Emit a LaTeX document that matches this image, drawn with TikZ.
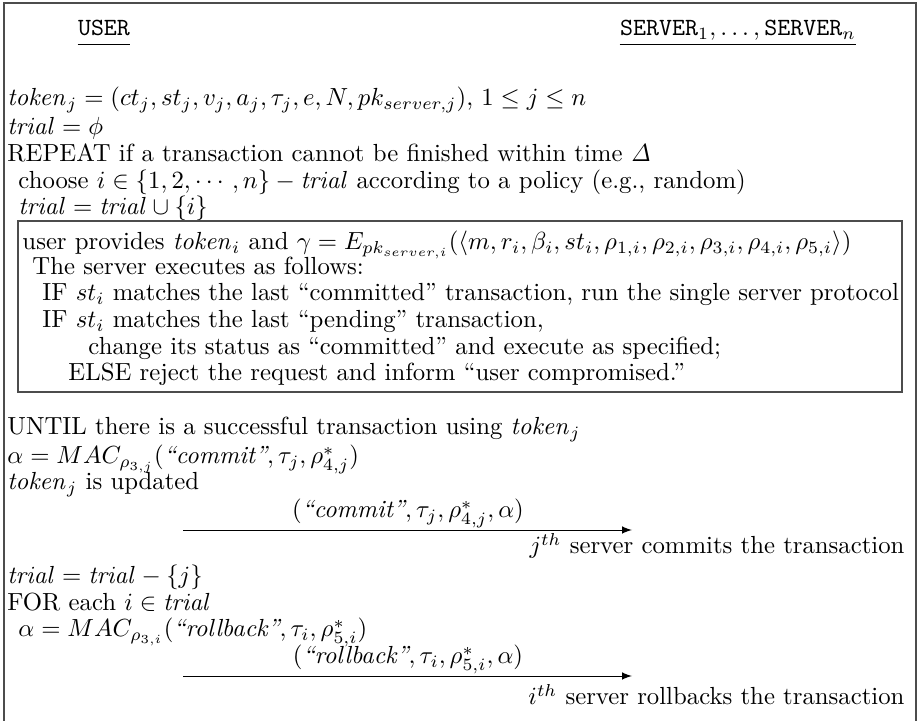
\documentclass[tikz,border=0pt]{standalone}
\usepackage{amsmath}
\usepackage{amssymb}
\usepackage{tikz}
\usetikzlibrary{arrows}
\usetikzlibrary{positioning}
\definecolor{mgray}{rgb}{0.3, 0.3, 0.3}

\begin{document}
\begin{tikzpicture}[x=0.404pt, y=-0.404pt,
    txt/.style={anchor=base west, inner sep=0pt},
    rtxt/.style={anchor=base east, inner sep=0pt},
    msg/.style={anchor=base, inner sep=0pt},
    hdr/.style={anchor=base, inner sep=0pt, font=\ttfamily}]
  \useasboundingbox (0, 0) rectangle (919, 721);

  % outer frame, open at the bottom
  \draw [mgray, line width=0.7pt] (4, 721) -- (4, 3) -- (916, 3) -- (916, 721);

  % parties
  \node [hdr] (user) at (104, 36) {USER};
  \node [hdr] (servers) at (738, 36) {$\texttt{SERVER}_1, \ldots, \texttt{SERVER}_n$};
  \draw ([yshift=-3.3pt] user.base west) -- ([yshift=-3.3pt] user.base east);
  \draw ([yshift=-3.3pt] servers.base west) -- ([yshift=-3.3pt] servers.base east);

  % user side
  \node [txt] (tok) at (7, 106) {$\mathit{token}_j = (ct_j, st_j, v_j, a_j, \tau_j, e, N, pk_{server,j})$, $1 \leq j \leq n$};
  \node [txt] (init) at (7, 135) {$\mathit{trial} = \phi$};
  \node [txt] (rep) at (7, 162) {REPEAT if a transaction cannot be finished within time $\mathit{\Delta}$};
  \node [txt] (choose) at (18, 189) {choose $i \in \{1, 2, \cdots, n\} - \mathit{trial}$ according to a policy (e.g., random)};
  \node [txt] (add) at (18, 215) {$\mathit{trial} = \mathit{trial} \cup \{i\}$};

  % server box
  \draw [mgray, line width=0.8pt] (18, 221) rectangle (902, 392);
  \node [txt] (prov) at (22, 250) {user provides $\mathit{token}_i$ and $\gamma = E_{pk_{server,i}}(\langle m, r_i, \beta_i, st_i, \rho_{1,i}, \rho_{2,i}, \rho_{3,i}, \rho_{4,i}, \rho_{5,i} \rangle)$};
  \node [txt] (exec) at (32, 275) {The server executes as follows:};
  \node [txt] (ifc) at (42, 301) {IF $st_i$ matches the last ``committed'' transaction, run the single server protocol};
  \node [txt] (ifp) at (42, 328) {IF $st_i$ matches the last ``pending'' transaction,};
  \node [txt] (chg) at (88, 355) {change its status as ``committed'' and execute as specified;};
  \node [txt] (rej) at (68, 381) {ELSE reject the request and inform ``user compromised.''};

  % commit
  \node [txt] (until) at (7, 435) {UNTIL there is a successful transaction using $\mathit{token}_j$};
  \node [txt] (mac1) at (7, 464) {$\alpha = MAC_{\rho_{3,j}}(\textit{``commit''}, \tau_j, \rho^*_{4,j})$};
  \node [txt] (upd) at (7, 490) {$\mathit{token}_j$ is updated};
  \node [msg] (m1) at (408, 518) {$(\textit{``commit''}, \tau_j, \rho^*_{4,j}, \alpha)$};
  \coordinate (a1s) at (183, 530);
  \coordinate (a1e) at (632, 530);
  \draw [-latex] (a1s) -- (a1e);
  \node [rtxt] (cmt) at (905, 554) {$j^{th}$ server commits the transaction};

  % rollback
  \node [txt] (rem) at (7, 584) {$\mathit{trial} = \mathit{trial} - \{j\}$};
  \node [txt] (for) at (7, 611) {FOR each $i \in \mathit{trial}$};
  \node [txt] (mac2) at (18, 637) {$\alpha = MAC_{\rho_{3,i}}(\textit{``rollback''}, \tau_i, \rho^*_{5,i})$};
  \node [msg] (m2) at (408, 664) {$(\textit{``rollback''}, \tau_i, \rho^*_{5,i}, \alpha)$};
  \coordinate (a2s) at (183, 676);
  \coordinate (a2e) at (632, 676);
  \draw [-latex] (a2s) -- (a2e);
  \node [rtxt] (rbk) at (905, 705) {$i^{th}$ server rollbacks the transaction};
\end{tikzpicture}
\end{document}
